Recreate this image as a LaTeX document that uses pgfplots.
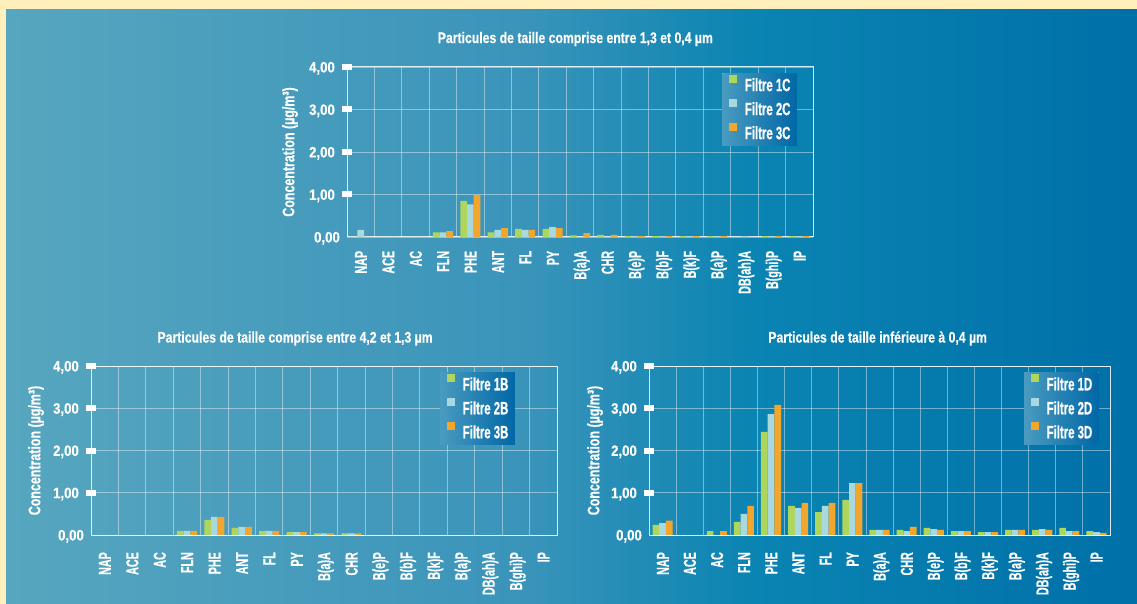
\documentclass[border=0pt]{standalone}
\usepackage{fontspec}
\setmainfont{Liberation Sans}
\newfontfamily\fTitle{Liberation Sans}[FakeStretch=0.80, FakeBold=0.4]
\newfontfamily\fYlab{Liberation Sans}[FakeStretch=0.74, FakeBold=0.4]
\newfontfamily\fXlab{Liberation Sans}[FakeStretch=0.62, FakeBold=0.5]
\newfontfamily\fLeg{Liberation Sans}[FakeStretch=0.64, FakeBold=0.5]
\newfontfamily\fDig{Liberation Sans}[FakeStretch=0.88, FakeBold=0.4]
\usepackage{pgfplots}
\usepackage{pgfplotstable}
\pgfplotsset{compat=1.18}

\newcommand\titlefont{\fTitle\bfseries\fontsize{15.3bp}{15.3bp}\selectfont}
\newcommand\ylabfont{\fYlab\bfseries\fontsize{16.8bp}{16.8bp}\selectfont}
\newcommand\xlabfont{\fXlab\bfseries\fontsize{17.3bp}{17.3bp}\selectfont}
\newcommand\legfont{\fLeg\bfseries\fontsize{17.8bp}{17.8bp}\selectfont}
\newcommand\digfont{\fDig\bfseries\fontsize{15bp}{15bp}\selectfont}

\definecolor{cream}{HTML}{FFEFBA}
\definecolor{cA}{HTML}{57A6BF}
\definecolor{cB}{HTML}{3A94BA}
\definecolor{cC}{HTML}{0A84B2}
\definecolor{cD}{HTML}{0070A8}
\definecolor{bargreen}{HTML}{AED65C}
\definecolor{barblue}{HTML}{A9D8DE}
\definecolor{barorange}{HTML}{F2A62E}
\definecolor{legL}{HTML}{4A9BC0}
\definecolor{legR}{HTML}{0067A6}

\pgfdeclarehorizontalshading{panel}{100bp}{color(0bp)=(cA); color(25bp)=(cA); color(48bp)=(cB); color(58bp)=(cC); color(75bp)=(cD); color(100bp)=(cD)}

% Concentrations (ug/m3) per compound, three filters each
\pgfplotstableread{
x  a     b     c
0  0     0.17  0
1  0     0     0
2  0     0     0
3  0.11  0.11  0.14
4  0.85  0.77  0.99
5  0.11  0.17  0.21
6  0.19  0.17  0.17
7  0.19  0.23  0.21
8  0.04  0     0.09
9  0.05  0     0.05
10 0.02  0.02  0.02
11 0.02  0.02  0.02
12 0.02  0.02  0.02
13 0.02  0.02  0.02
14 0     0.02  0
15 0.02  0.02  0.02
16 0.02  0.02  0.02
}\tabC

\pgfplotstableread{
x  a     b     c
0  0     0     0
1  0     0     0
2  0     0     0
3  0.10  0.10  0.10
4  0.36  0.43  0.43
5  0.17  0.19  0.19
6  0.10  0.10  0.10
7  0.07  0.07  0.07
8  0.04  0.04  0.04
9  0.04  0.04  0.04
10 0     0     0
11 0     0     0
12 0     0     0
13 0     0     0
14 0     0     0
15 0     0     0
16 0     0     0
}\tabB

\pgfplotstableread{
x  a     b     c
0  0.24  0.28  0.34
1  0     0     0
2  0.09  0     0.09
3  0.31  0.50  0.69
4  2.44  2.86  3.08
5  0.69  0.64  0.76
6  0.54  0.69  0.76
7  0.83  1.23  1.23
8  0.12  0.12  0.12
9  0.12  0.09  0.19
10 0.17  0.14  0.12
11 0.09  0.09  0.09
12 0.07  0.07  0.07
13 0.12  0.12  0.12
14 0.12  0.14  0.12
15 0.17  0.09  0.09
16 0.09  0.07  0.05
}\tabD

\pgfplotsset{
  hapchart/.style={
    scale only axis, anchor=south west,
    ybar=0pt, bar width=6.7bp,
    xmin=-0.5, xmax=16.5, ymin=0, ymax=4,
    xtick={0,...,16},
    xticklabels={NAP,ACE,AC,FLN,PHE,ANT,FL,PY,B(a)A,CHR,B(e)P,B(b)F,B(k)F,B(a)P,DB(ah)A,B(ghi)P,IP},
    minor xtick={0.5,1.5,...,15.5},
    xminorgrids, ymajorgrids,
    ytick={1,2,3,4}, extra y ticks={0},
    extra y tick style={major tick length=0pt},
    ytick pos=left, xtick pos=bottom,
    tick align=center, major tick length=10bp,
    ytick style={draw=white, line width=6bp, opacity=1},
    every major y tick/.append style={draw=white, line width=6bp, opacity=1},
    xtick style={draw=none}, minor x tick style={draw=none},
    grid style={white, opacity=0.42, line width=0.9bp},
    minor grid style={white, opacity=0.42, line width=0.9bp},
    axis line style={white, opacity=0.85, line width=1bp},
    yticklabel style={font=\digfont, text=white, anchor=east, inner sep=0pt,
      text height=10.8bp, text depth=0pt,
      /pgf/number format/.cd, use comma, fixed, fixed zerofill, precision=2, assume math mode=true},
    yticklabel shift=7bp,
    xticklabel style={font=\xlabfont, text=white, rotate=90, anchor=east, inner sep=0pt,
      text height=12.4bp, text depth=0pt},
    ylabel={Concentration (µg/m³)},
    ylabel style={font=\ylabfont, text=white, anchor=center, inner sep=0pt},
    title style={font=\titlefont, text=white, anchor=base, inner sep=0pt},
    legend style={draw=none, left color=legL, right color=legR,
      anchor=north east, inner xsep=6.5bp, inner ysep=0bp,
      font=\legfont, text=white, row sep=0bp, column sep=7.7bp,
      nodes={inner sep=0pt, text height=18bp, text depth=6bp}},
    legend cell align=left,
    legend image code/.code={\fill[##1, draw=none] (0bp,2.2bp) rectangle (8.4bp,10.6bp);},
  },
}

\begin{document}
\begin{tikzpicture}
\fill[cream] (0,0) rectangle (1137bp,604bp);
\shade[shading=panel] (6bp,0) rectangle (1137bp,594bp);

% particles between 1.3 and 0.4 um
\begin{axis}[hapchart, at={(347bp,367bp)}, width=466bp, height=170bp,
  xticklabel shift=8.7bp,
  title={Particules de taille comprise entre 1,3 et 0,4 µm},
  title style={at={(axis description cs:0.490,1)}, yshift=18bp},
  ylabel style={at={(axis description cs:-0.1223,0.5)}},
  legend style={at={(axis description cs:0.966,0.965)}}]
\addplot[fill=bargreen, draw=none] table[x=x, y=a] {\tabC};
\addplot[fill=barblue, draw=none] table[x=x, y=b] {\tabC};
\addplot[fill=barorange, draw=none] table[x=x, y=c] {\tabC};
\legend{Filtre 1C, Filtre 2C, Filtre 3C}
\end{axis}

% particles between 4.2 and 1.3 um
\begin{axis}[hapchart, at={(91bp,69bp)}, width=466bp, height=169bp,
  xticklabel shift=12bp,
  title={Particules de taille comprise entre 4,2 et 1,3 µm},
  title style={at={(axis description cs:0.438,1)}, yshift=17.5bp},
  ylabel style={at={(axis description cs:-0.118,0.5)}},
  legend style={at={(axis description cs:0.910,0.964)}}]
\addplot[fill=bargreen, draw=none] table[x=x, y=a] {\tabB};
\addplot[fill=barblue, draw=none] table[x=x, y=b] {\tabB};
\addplot[fill=barorange, draw=none] table[x=x, y=c] {\tabB};
\legend{Filtre 1B, Filtre 2B, Filtre 3B}
\end{axis}

% particles below 0.4 um
\begin{axis}[hapchart, at={(649bp,69bp)}, width=461bp, height=169bp,
  xticklabel shift=12bp,
  title={Particules de taille inférieure à 0,4 µm},
  title style={at={(axis description cs:0.496,1)}, yshift=17.5bp},
  ylabel style={at={(axis description cs:-0.117,0.5)}},
  legend style={at={(axis description cs:0.976,0.964)}}]
\addplot[fill=bargreen, draw=none] table[x=x, y=a] {\tabD};
\addplot[fill=barblue, draw=none] table[x=x, y=b] {\tabD};
\addplot[fill=barorange, draw=none] table[x=x, y=c] {\tabD};
\legend{Filtre 1D, Filtre 2D, Filtre 3D}
\end{axis}

\pgfresetboundingbox
\path (0,0) rectangle (1137bp,604bp);
\end{tikzpicture}
\end{document}
